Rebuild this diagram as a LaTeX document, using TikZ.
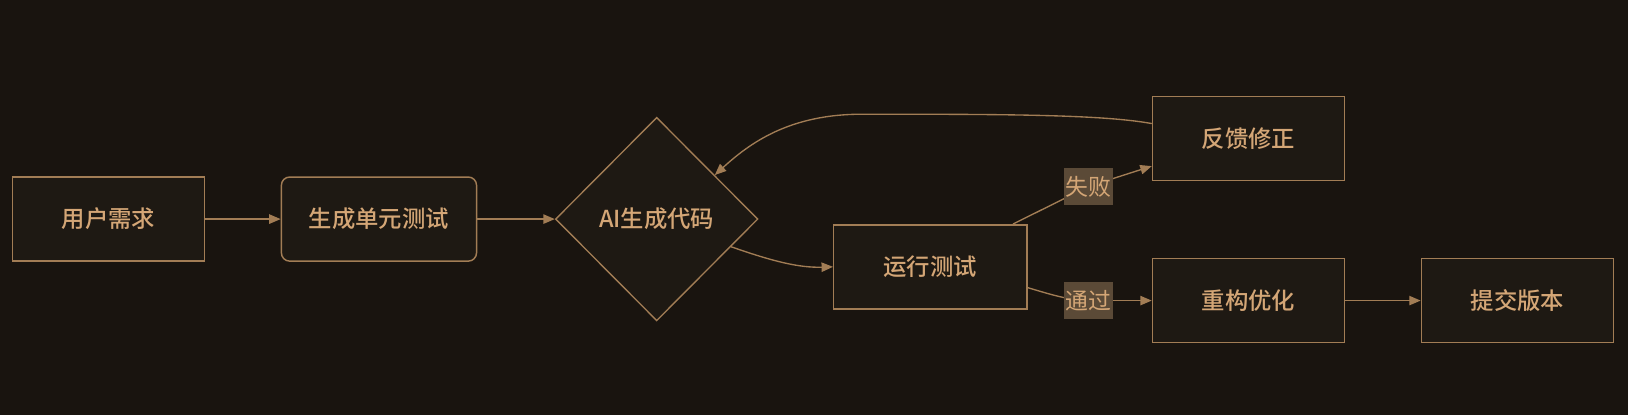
\documentclass[tikz,border=0pt]{standalone}
\usepackage{fontspec}
\newfontfamily\cjk{Noto Sans CJK SC}
\newfontfamily\cjkm{Noto Sans CJK SC Medium}
\usetikzlibrary{shapes.geometric,arrows.meta,calc}
\definecolor{bgc}{HTML}{19140F}
\definecolor{nodefill}{HTML}{1E1913}
\definecolor{strokec}{HTML}{A27D55}
\definecolor{textc}{HTML}{D4A676}
\definecolor{lblbg}{HTML}{5B4A37}
\tikzset{
  box/.style={draw=strokec, fill=nodefill, line width=1.4pt, minimum width=185pt, minimum height=81pt, inner sep=0pt, text=textc, font=\cjkm\fontsize{22.5}{26}\selectfont},
  rbox/.style={box, rounded corners=8pt, minimum width=188pt},
  dia/.style={diamond, draw=strokec, fill=nodefill, line width=1.3pt, minimum width=195pt, minimum height=196pt, inner sep=0pt, text=textc, font=\cjkm\fontsize{22.5}{26}\selectfont},
  edge/.style={draw=strokec, line width=1.3pt, -{Triangle[length=11pt,width=9pt]}},
  plain/.style={draw=strokec, line width=1.3pt},
  lbl/.style={fill=lblbg, text=textc, inner xsep=1pt, minimum height=35pt, minimum width=47pt, font=\cjk\fontsize{22}{26}\selectfont}
}
\begin{document}
\begin{tikzpicture}[x=1pt,y=-1pt]
\fill[bgc] (0,0) rectangle (1568,400);
\useasboundingbox (0,0) rectangle (1568,400);
\node[box] (n1) at (104.5,211) {用户需求};
\node[rbox] (n2) at (365,211) {生成单元测试};
\node[dia] (n3) at (632.5,211) {AI生成代码};
\node[box, minimum width=186pt] (n4) at (896,257) {运行测试};
\node[box] (n5) at (1202.5,133.5) {反馈修正};
\node[box] (n6) at (1202.5,289.5) {重构优化};
\node[box] (n7) at (1461.5,289.5) {提交版本};
\coordinate (fs) at ($(n4.north east)+(-14,0)$);
\coordinate (fe) at ($(n5.west)+(0,26.5)$);
\coordinate (ps) at ($(n4.east)+(0,20)$);
\coordinate (bs) at ($(n5.west)+(0,-14.5)$);
\coordinate (be) at ($(n3.north)!0.57!(n3.east)$);
\coordinate (ds) at ($(n3.east)!0.27!(n3.south)$);
\coordinate (fl) at (1048.5,179.5);
\coordinate (pl) at (1048.5,289.5);
\draw[edge] (n1) -- (n2);
\draw[edge] (n2.east) -- (n3.west);
\draw[edge] (ds) .. controls (745,252) and (770,258) .. (n4.west);
\draw[plain] (fs) -- (fl);
\draw[edge] (fl) -- (fe);
\draw[plain] (ps) .. controls (1010,283) and (1030,289.5) .. (pl);
\draw[edge] (pl) -- (n6.west);
\draw[edge] (bs) .. controls (1060,110) and (960,110) .. (830,110) .. controls (760,110) and (722,138) .. (be);
\draw[edge] (n6) -- (n7);
\node[lbl] (fail) at (fl) {失败};
\node[lbl] (pass) at (pl) {通过};
\end{tikzpicture}
\end{document}
